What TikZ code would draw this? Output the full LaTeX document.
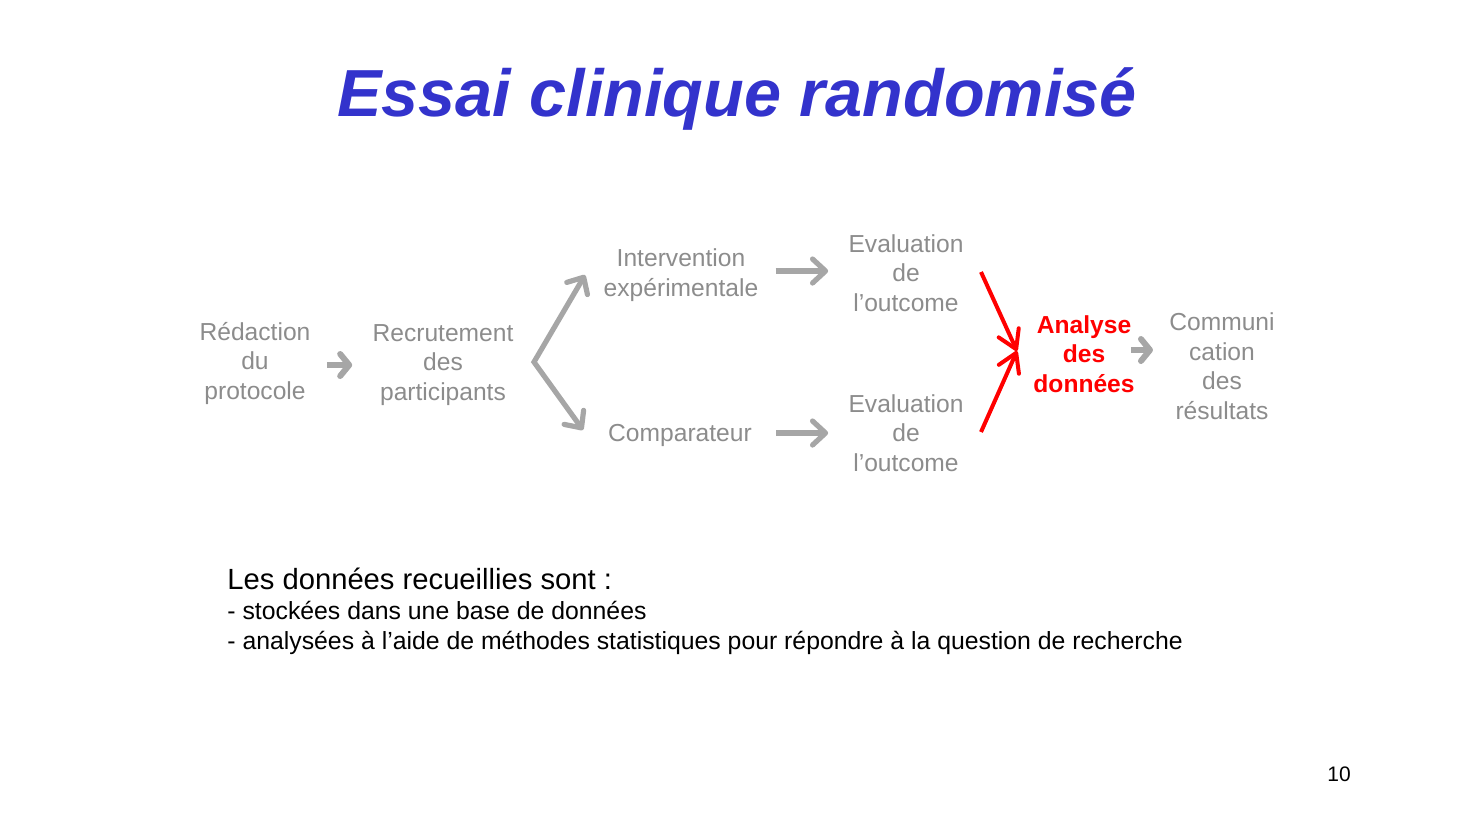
\documentclass[tikz,border=0pt]{standalone}
\usepackage{fontspec}
\setmainfont{Liberation Sans}
\usetikzlibrary{arrows.meta,positioning}
\definecolor{titrebleu}{HTML}{3333CC}
\definecolor{textegris}{HTML}{8C8C8C}
\definecolor{flechegris}{HTML}{A6A6A6}
\definecolor{rougevif}{HTML}{FF0000}
\tikzset{
  etape/.style={text=textegris, align=center, inner sep=0pt,
    font=\fontsize{12.3}{14.75}\selectfont},
  etapeforte/.style={etape, text=rougevif, font=\bfseries\fontsize{12.3}{14.75}\selectfont},
  fleche/.style={draw=flechegris, line width=2.6pt, -{Straight Barb[length=6.5pt,width=12pt,round]}},
  flechecourte/.style={draw=flechegris, line width=3pt, -{Straight Barb[length=4.5pt,width=11pt,round]}},
  flecherouge/.style={draw=rougevif, line width=2pt, -{Straight Barb[length=9pt,width=11pt,round]}},
  ligne/.style={anchor=base west, inner sep=0pt, font=\fontsize{12.4}{15}\selectfont}
}
\begin{document}
\begin{tikzpicture}[x=0.5pt,y=-0.5pt]
  \useasboundingbox (0,0) rectangle (1477,827);
  % titre
  \node[anchor=base, text=titrebleu, inner sep=0pt, font=\bfseries\itshape\fontsize{33.3}{40}\selectfont]
    (titre) at (737,116) {Essai clinique randomisé};

  % etapes de l'essai
  \node[etape] (redac) at (255,363) {Rédaction\\du\\protocole};
  \node[etape] (recrut) at (443,365) {Recrutement\\des\\participants};
  \node[etape] (interv) at (681,275) {Intervention\\expérimentale};
  \node[etape] (compar) at (680,435) {Comparateur};
  \node[etape] (evalA) at (906,273) {Evaluation\\de\\l’outcome};
  \node[etape] (evalB) at (906,433) {Evaluation\\de\\l’outcome};
  \node[etapeforte] (analyse) at (1084,354) {Analyse\\des\\données};
  \node[etape] (commun) at (1222,366) {Communi\\cation\\des\\résultats};

  % fleches
  \coordinate (fourche) at (534,362);
  \coordinate (versInterv) at (585,275);
  \coordinate (versCompar) at (583,430);
  \coordinate (depA) at (981,272);
  \coordinate (depB) at (981,432);
  \coordinate (arrivee) at (1017,351);
  \draw[flechecourte, shorten <=8pt, shorten >=10pt] ([yshift=-1pt]redac.east) -- ([yshift=-1pt]redac.east -| recrut.west);
  \draw[fleche, {Straight Barb[length=6.5pt,width=12pt,round]}-{Straight Barb[length=6.5pt,width=12pt,round]}]
    (versInterv) -- (fourche) -- (versCompar);
  \draw[fleche, shorten <=8.5pt, shorten >=10pt] ([yshift=2pt]interv.east) -- ([yshift=2pt]interv.east -| evalA.west);
  \draw[fleche, shorten <=12pt, shorten >=10pt] ([yshift=1pt]compar.east) -- ([yshift=1pt]compar.east -| evalB.west);
  \draw[flecherouge] (depA) -- (arrivee);
  \draw[flecherouge] (depB) -- (arrivee);
  \draw[flechecourte, shorten <=-2pt, shorten >=8pt] ([yshift=2pt]analyse.east) -- ([yshift=2pt]analyse.east -| commun.west);

  % texte du bas
  \node[ligne, font=\fontsize{14.6}{17}\selectfont] (bilan) at (227,589) {Les données recueillies sont :};
  \node[ligne] (stock) at (227,619) {- stockées dans une base de données};
  \node[ligne] (analy) at (227,649) {- analysées à l’aide de méthodes statistiques pour répondre à la question de recherche};
  \node[font=\fontsize{10.5}{12}\selectfont] (page) at (1339,774) {10};
\end{tikzpicture}
\end{document}
